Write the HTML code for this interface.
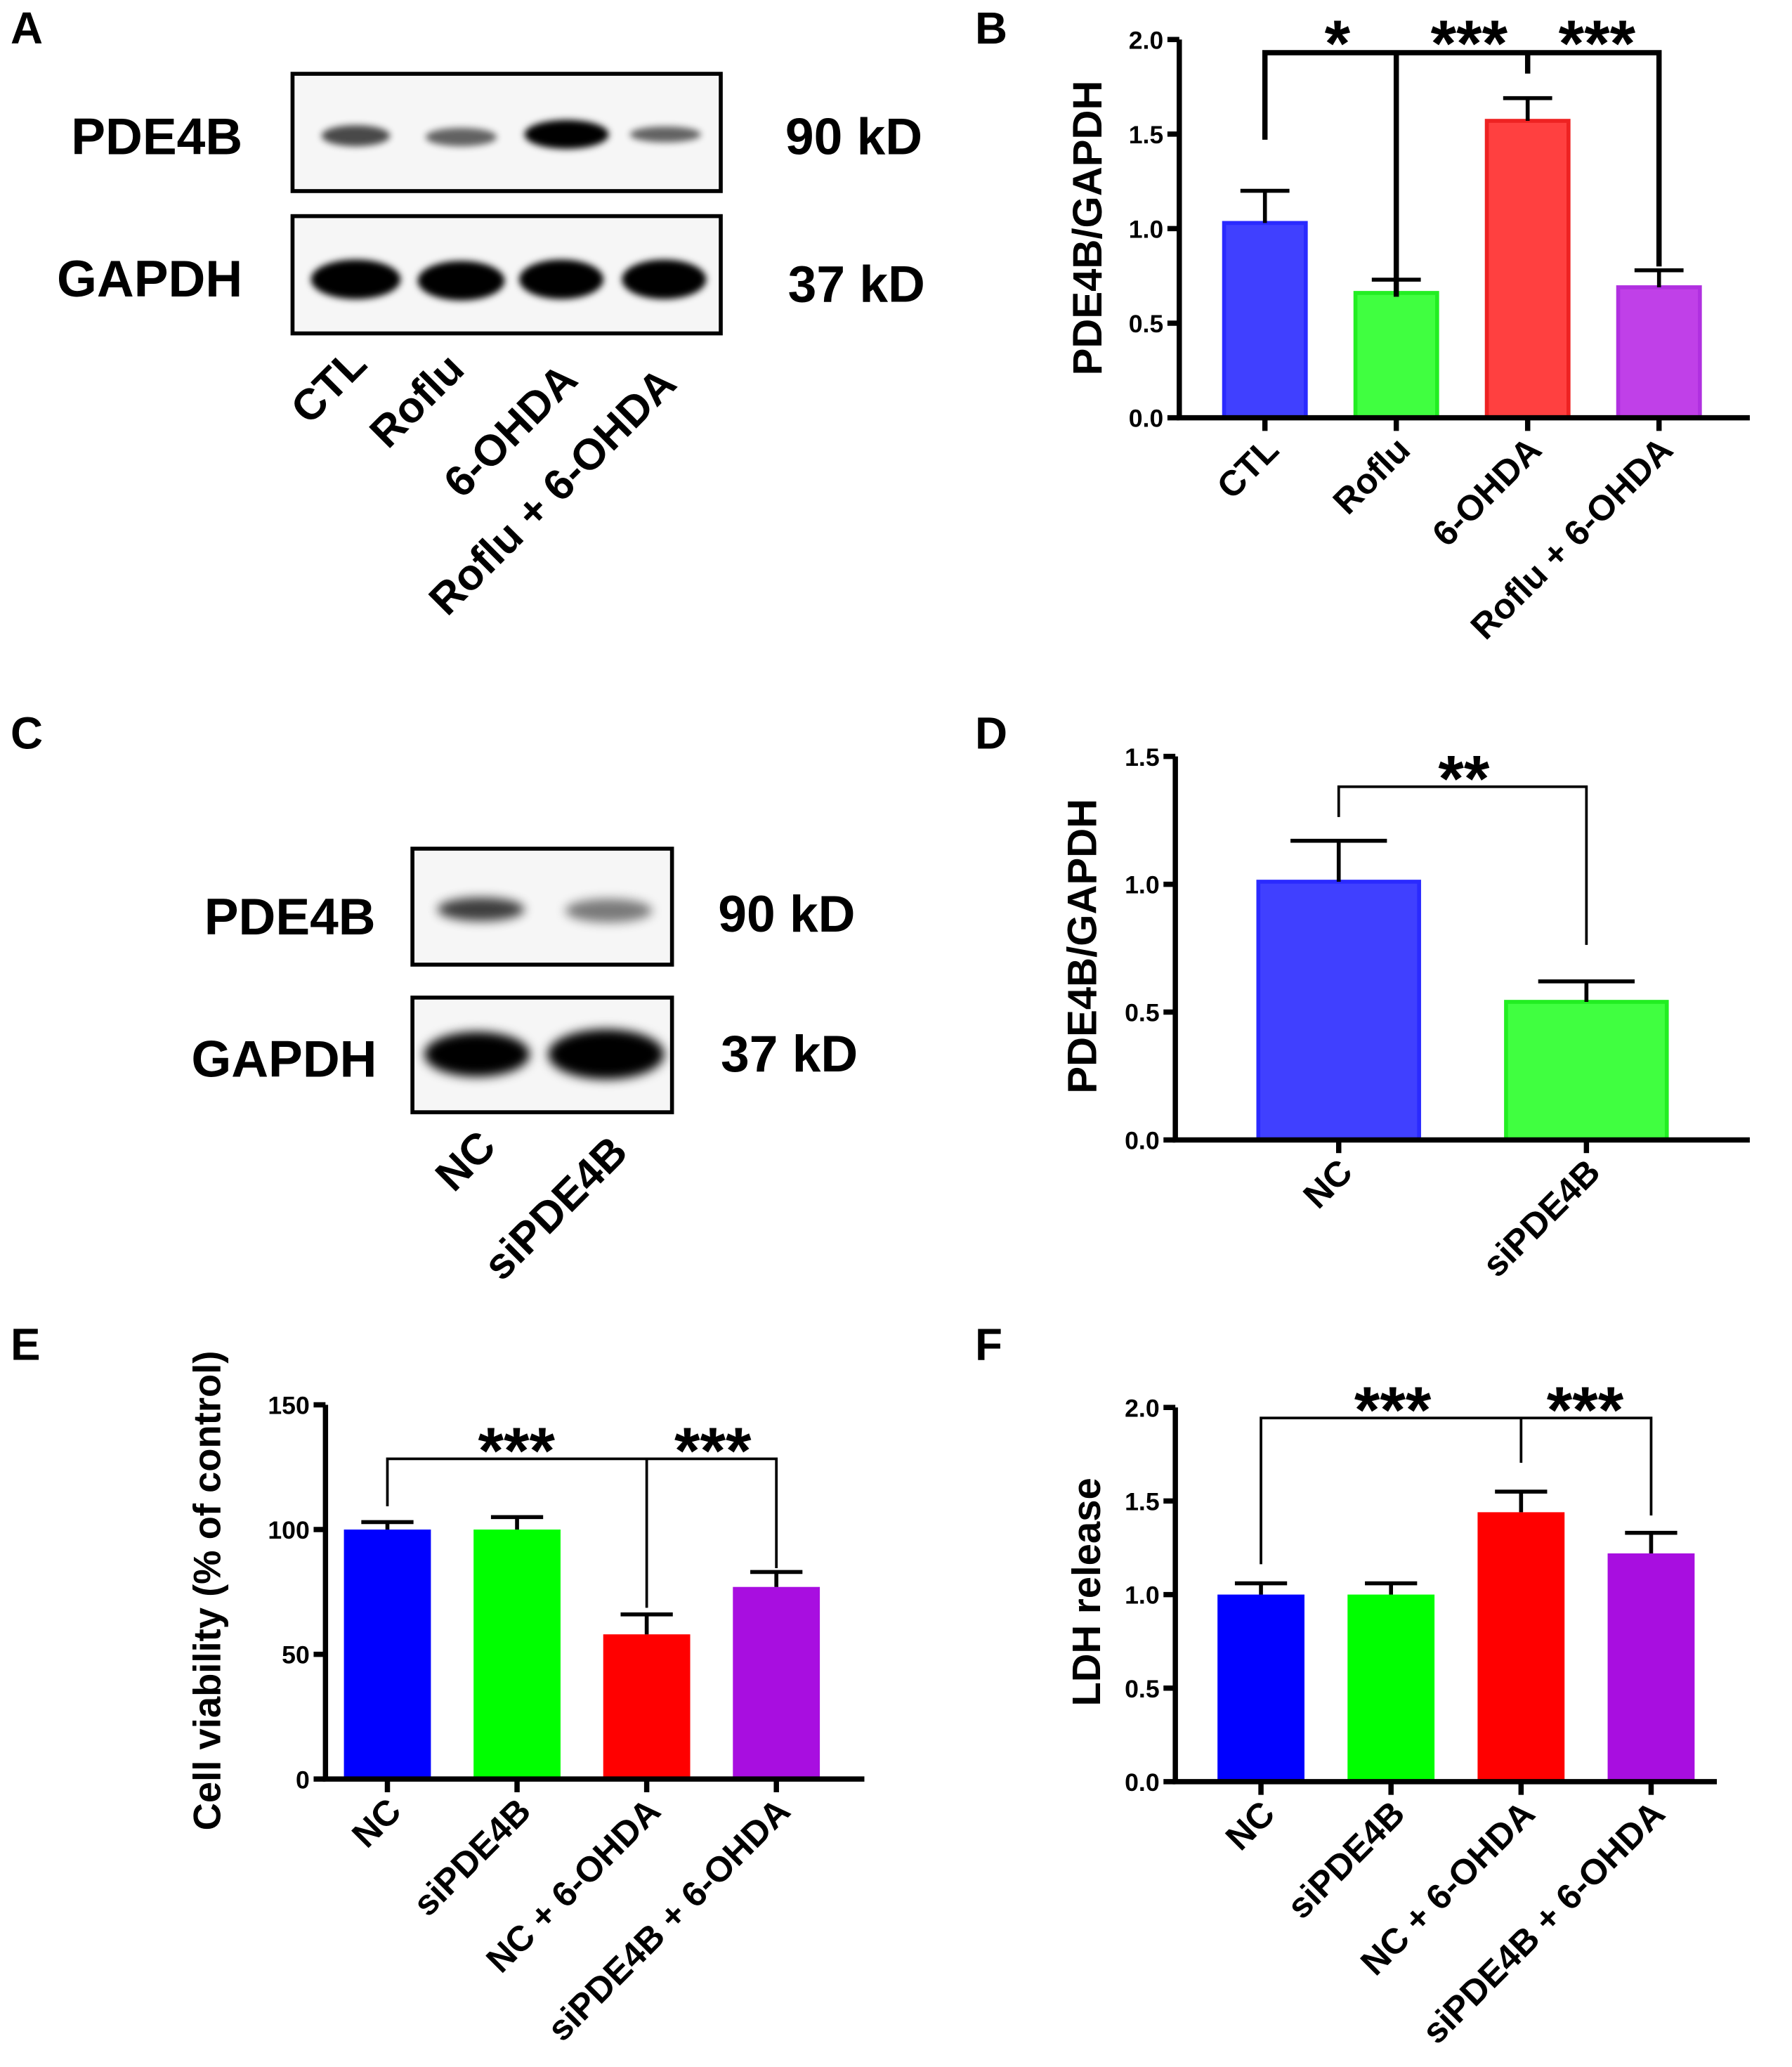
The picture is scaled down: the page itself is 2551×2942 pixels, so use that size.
<!DOCTYPE html>
<html><head><meta charset="utf-8"><style>
html,body{margin:0;padding:0;background:#fff;}
svg{display:block;}
text{font-family:"Liberation Sans",sans-serif;font-weight:bold;fill:#000;}
.n{font-family:"Liberation Sans Narrow","Liberation Sans",sans-serif;}
</style></head><body>
<svg id="fig" width="2551" height="2942" viewBox="0 0 1360 1568.5" xmlns="http://www.w3.org/2000/svg">
<defs>
<filter id="blur" x="-30%" y="-80%" width="160%" height="260%"><feGaussianBlur stdDeviation="4"/></filter>
<filter id="blur2" x="-30%" y="-80%" width="160%" height="260%"><feGaussianBlur stdDeviation="2.5"/></filter>
</defs>
<g id="root"></g>
</svg>
<script>
// ---- data ----
const bCats = ["CTL","Roflu","6-OHDA","Roflu + 6-OHDA"];
const bVals = [1.03,0.66,1.57,0.69];
const bErr = [1.20,0.73,1.69,0.78];
const bTicks = [0,0.5,1.0,1.5,2.0];
const dCats = ["NC","siPDE4B"];
const dVals = [1.01,0.54];
const dErr = [1.17,0.62];
const dTicks = [0,0.5,1.0,1.5];
const eCats = ["NC","siPDE4B","NC + 6-OHDA","siPDE4B + 6-OHDA"];
const eVals = [100,100,58,77];
const eErr = [103,105,66,83];
const eTicks = [0,50,100,150];
const fCats = ["NC","siPDE4B","NC + 6-OHDA","siPDE4B + 6-OHDA"];
const fVals = [1.0,1.0,1.44,1.22];
const fErr = [1.06,1.06,1.55,1.33];
const fTicks = [0,0.5,1.0,1.5,2.0];

const NS="http://www.w3.org/2000/svg";
const root=document.getElementById('root');
function el(tag,attrs,parent,txt){const e=document.createElementNS(NS,tag);for(const k in attrs)e.setAttribute(k,attrs[k]);if(txt!==undefined)e.textContent=txt;(parent||root).appendChild(e);return e;}
function txt(x,y,s,size,anchor,parent,extra){const t=el('text',Object.assign({x:x,y:y,'font-size':size,'text-anchor':anchor||'start'},extra||{}),parent,s);return t;}

[["A",8,33],["B",740,33],["C",8,568],["D",740,568],["E",8,1032],["F",740,1032]].forEach(p=>{
  const t=txt(p[1],p[2],p[0],34,'start');
  
  
});

function chart(cfg){
  const g=el('g',{});
  
  
  const y=v=>cfg.y0-(v-0)/(cfg.max)*(cfg.y0-cfg.yTop);
  const x=i=>cfg.x0+cfg.first+i*cfg.step;
  cfg.vals.forEach((v,i)=>{
    const r=el('rect',{x:x(i)-cfg.bw/2,y:y(v),width:cfg.bw,height:cfg.y0-y(v),fill:cfg.fills[i],stroke:cfg.strokes?cfg.strokes[i]:'none','stroke-width':cfg.strokes?3:0},g);
    
    
    const e=el('path',{d:`M${x(i)} ${y(v)} V${y(cfg.err[i])} M${x(i)-cfg.bw*0.3} ${y(cfg.err[i])} H${x(i)+cfg.bw*0.3}`,stroke:'#000','stroke-width':3,fill:'none'},g);
    
    
  });
  const ax=el('path',{d:`M${cfg.x0} ${cfg.yTop} V${cfg.y0} H${cfg.xEnd}`,stroke:'#000','stroke-width':4,fill:'none'},g);
  
  
  cfg.ticks.forEach(t=>{
    el('path',{d:`M${cfg.x0-9} ${y(t)} H${cfg.x0}`,stroke:'#000','stroke-width':4},g);
    const tl=txt(cfg.x0-12,y(t)+7,cfg.tickFmt(t),19,'end',g,{class:'n'});
    
    
  });
  cfg.cats.forEach((c,i)=>{
    el('path',{d:`M${x(i)} ${cfg.y0} V${cfg.y0+10}`,stroke:'#000','stroke-width':4},g);
    const lx=x(i)+12, ly=cfg.y0+26;
    const tl=txt(lx,ly,c,27,'end',g,{transform:`rotate(-45 ${lx} ${ly})`});
    
    
  });
  const yt=txt(0,0,cfg.ytitle,cfg.ytSize||31,'middle',g,{transform:`translate(${cfg.ytx} ${cfg.yty}) rotate(-90)`});
  
  
  cfg.brackets.forEach(b=>{
    const p=el('path',{d:b.d(x,y),stroke:'#000','stroke-width':b.w||3,fill:'none'},g);
    
    
  });
  cfg.stars.forEach(s=>{
    const t=txt(s[0],s[1],s[2],50,'middle',g);
    
    
  });
}

const lightF=["#4040ff","#40ff40","#ff4040","#c040e8"];
const lightS=["#2a2aff","#22ee22","#ee2222","#b030e0"];
const solid=["#0000ff","#00ff00","#ff0000","#a80ee0"];

chart({name:'chart-b',cats:bCats,vals:bVals,err:bErr,ticks:bTicks,max:2,x0:895,xEnd:1328,y0:317,yTop:30,first:65,step:99.7,bw:62,
 fills:lightF,strokes:lightS,tickFmt:t=>t.toFixed(1),ytitle:'PDE4B/GAPDH',ytx:836,yty:173,
 brackets:[{w:4,d:(x,y)=>`M${x(0)} ${y(1.47)} V40 H${x(3)} V${y(0.80)} M${x(1)} 40 V${y(0.64)} M${x(2)} 40 V${y(1.82)}`}],
 stars:[[1015,50,'*'],[1115,50,'***'],[1212,50,'***']]});

chart({name:'chart-d',cats:dCats,vals:dVals,err:dErr,ticks:dTicks,max:1.5,x0:892,xEnd:1328,y0:865,yTop:574,first:124,step:188,bw:122,
 fills:lightF,strokes:lightS,tickFmt:t=>t.toFixed(1),ytitle:'PDE4B/GAPDH',ytx:832,yty:718,
 brackets:[{w:2,d:(x,y)=>`M${x(0)} 620 V597 H${x(1)} V717`}],
 stars:[[1111,608,'**']]});

chart({name:'chart-e',cats:eCats,vals:eVals,err:eErr,ticks:eTicks,max:150,x0:247,xEnd:656,y0:1350,yTop:1066,first:47,step:98.4,bw:66,
 fills:solid,tickFmt:t=>String(t),ytitle:'Cell viability (% of control)',ytx:167,yty:1207,ytSize:29,
 brackets:[{w:2,d:(x,y)=>`M${x(0)} 1143 V1107 H${x(3)} V1190 M${x(2)} 1107 V1220`}],
 stars:[[392,1118,'***'],[541,1118,'***']]});

chart({name:'chart-f',cats:fCats,vals:fVals,err:fErr,ticks:fTicks,max:2,x0:892,xEnd:1303,y0:1352,yTop:1068,first:65,step:98.7,bw:66,
 fills:solid,tickFmt:t=>t.toFixed(1),ytitle:'LDH release',ytx:835,yty:1208,ytSize:30,
 brackets:[{w:2,d:(x,y)=>`M${x(0)} 1187 V1076 H${x(3)} V1150 M${x(2)} 1076 V1110`}],
 stars:[[1057,1087,'***'],[1203,1087,'***']]});

function blot(name,bx,by,bw,bh,bands,blurId){
  const g=el('g',{});
  
  
  el('rect',{x:bx,y:by,width:bw,height:bh,fill:'#f6f6f6'},g);
  bands.forEach(b=>{
    const e=el('ellipse',{cx:b[0],cy:b[1],rx:b[2],ry:b[3],fill:'#000',opacity:b[4]},g);
    e.setAttribute('filter','url(#'+blurId+')');
    
    
  });
  el('rect',{x:bx,y:by,width:bw,height:bh,fill:'none',stroke:'#000','stroke-width':3},g);
}
blot('blot-a-pde4b',222,56,325,89,[[270,103,26,8,0.7],[350,104,27,7,0.6],[430,102,32,11,1],[505,102,27,6,0.6]],'blur2');
blot('blot-a-gapdh',222,164,325,89,[[270,212,34,15,1],[350,213,33,15,1],[426,212,32,15,1],[504,212,32,15,1]],'blur2');
blot('blot-c-pde4b',313,644,197,88,[[365,690,33,9,0.75],[462,691,33,9,0.5]],'blur');
blot('blot-c-gapdh',313,757,197,87,[[362,800,40,17,1],[460,800,44,19,1]],'blur');

[[184,117,'PDE4B','end','label-pde4b-a'],[184,225,'GAPDH','end','label-gapdh-a'],[285,709,'PDE4B','end','label-pde4b-c'],[286,817,'GAPDH','end','label-gapdh-c'],
 [596,117,'90 kD','start','mw-90-a'],[598,229,'37 kD','start','mw-37-a'],[545,707,'90 kD','start','mw-90-c'],[547,813,'37 kD','start','mw-37-c']].forEach(l=>{
  const t=txt(l[0],l[1],l[2],39,l[3],root,{class:'n'});
  
  
});
[[280,278,'CTL'],[354,282,'Roflu'],[440,290,'6-OHDA'],[515,293,'Roflu + 6-OHDA'],[378,872,'NC'],[478,876,'siPDE4B']].forEach(l=>{
  const t=txt(l[0],l[1],l[2],33,'end',root,{transform:`rotate(-45 ${l[0]} ${l[1]})`});
  
  
});
</script>
</body></html>
